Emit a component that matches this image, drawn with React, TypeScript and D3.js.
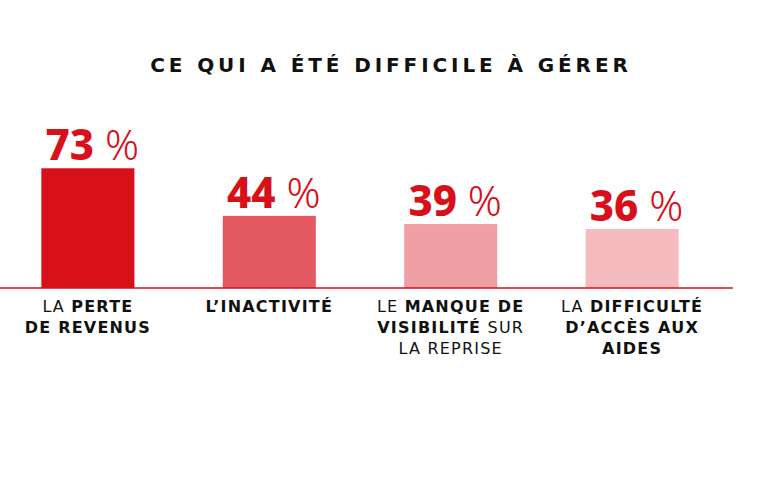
import React, { useEffect, useRef } from "react";
import * as d3 from "d3";

// chart values
const categories = ["perte", "inactivite", "visibilite", "aides"];
const values = [73, 44, 39, 36];
const barColors = ["#d71019", "#e35961", "#f0a0a5", "#f5bbbe"];

// label lines, each a list of [text, bold?] pieces
const labelLines: [string, boolean][][][] = [
    [[["LA ", false], ["PERTE", true]], [["DE REVENUS", true]]],
    [[["L’INACTIVITÉ", true]]],
    [
        [["LE ", false], ["MANQUE DE", true]],
        [["VISIBILITÉ", true], [" SUR", false]],
        [["LA REPRISE", false]],
    ],
    [[["LA ", false], ["DIFFICULTÉ", true]], [["D’ACCÈS AUX", true]], [["AIDES", true]]],
];

const title = "CE QUI A ÉTÉ DIFFICILE À GÉRER";

const width = 760;
const height = 502;
const font = "'DejaVu Sans', sans-serif";
const numFont = "'Noto Sans', sans-serif";
const red = "#d71019";

const App: React.FC = () => {
    const svgRef = useRef<SVGSVGElement>(null);

    useEffect(() => {
        if (!svgRef.current) return;
        const svg = d3.select(svgRef.current);
        svg.selectAll("*").remove();

        const baseY = 288;

        const x = d3
            .scaleBand<string>()
            .domain(categories)
            .range([0, 720])
            .paddingInner(0.487)
            .paddingOuter(0.228);

        const y = d3.scaleLinear().domain([0, 100]).range([baseY, baseY - 164]);

        // title
        svg.append("text")
            .attr("x", 391)
            .attr("y", 71.5)
            .attr("text-anchor", "middle")
            .attr("font-family", font)
            .attr("font-weight", 700)
            .attr("font-size", 20)
            .attr("letter-spacing", 3.9)
            .attr("fill", "#111")
            .text(title);

        // bars
        svg.append("g")
            .selectAll("rect")
            .data(values)
            .join("rect")
            .attr("x", (_, i) => x(categories[i])!)
            .attr("y", d => y(d))
            .attr("width", x.bandwidth())
            .attr("height", d => baseY - y(d))
            .attr("fill", (_, i) => barColors[i]);

        // baseline
        svg.append("line")
            .attr("x1", 0)
            .attr("x2", 733)
            .attr("y1", baseY)
            .attr("y2", baseY)
            .attr("stroke", red)
            .attr("stroke-width", 1.6);

        // value labels
        const vals = svg.append("g")
            .selectAll("text")
            .data(values)
            .join("text")
            .attr("x", (_, i) => x(categories[i])! + x.bandwidth() / 2 + 4.5)
            .attr("y", d => y(d) - 8)
            .attr("text-anchor", "middle")
            .attr("font-family", numFont)
            .attr("fill", red);
        vals.append("tspan")
            .attr("font-weight", 800)
            .attr("font-size", 42)
            .text(d => `${d}`);
        vals.append("tspan")
            .attr("font-weight", 300)
            .attr("font-size", 42)
            .text(" %");

        // category labels
        labelLines.forEach((lines, i) => {
            const cx = x(categories[i])! + x.bandwidth() / 2;
            lines.forEach((pieces, j) => {
                const t = svg.append("text")
                    .attr("x", cx)
                    .attr("y", 312 + j * 20.8)
                    .attr("text-anchor", "middle")
                    .attr("font-family", font)
                    .attr("font-size", 16)
                    .attr("letter-spacing", 1.2)
                    .attr("fill", "#111");
                pieces.forEach(([txt, bold]) => {
                    t.append("tspan")
                        .attr("font-weight", bold ? 700 : 400)
                        .text(txt);
                });
            });
        });
    }, []);

    return (
        <svg
            ref={svgRef}
            width={width}
            height={height}
            style={{ position: "absolute", left: 0, top: 0, background: "#fff" }}
        ></svg>
    );
};

export default App;
